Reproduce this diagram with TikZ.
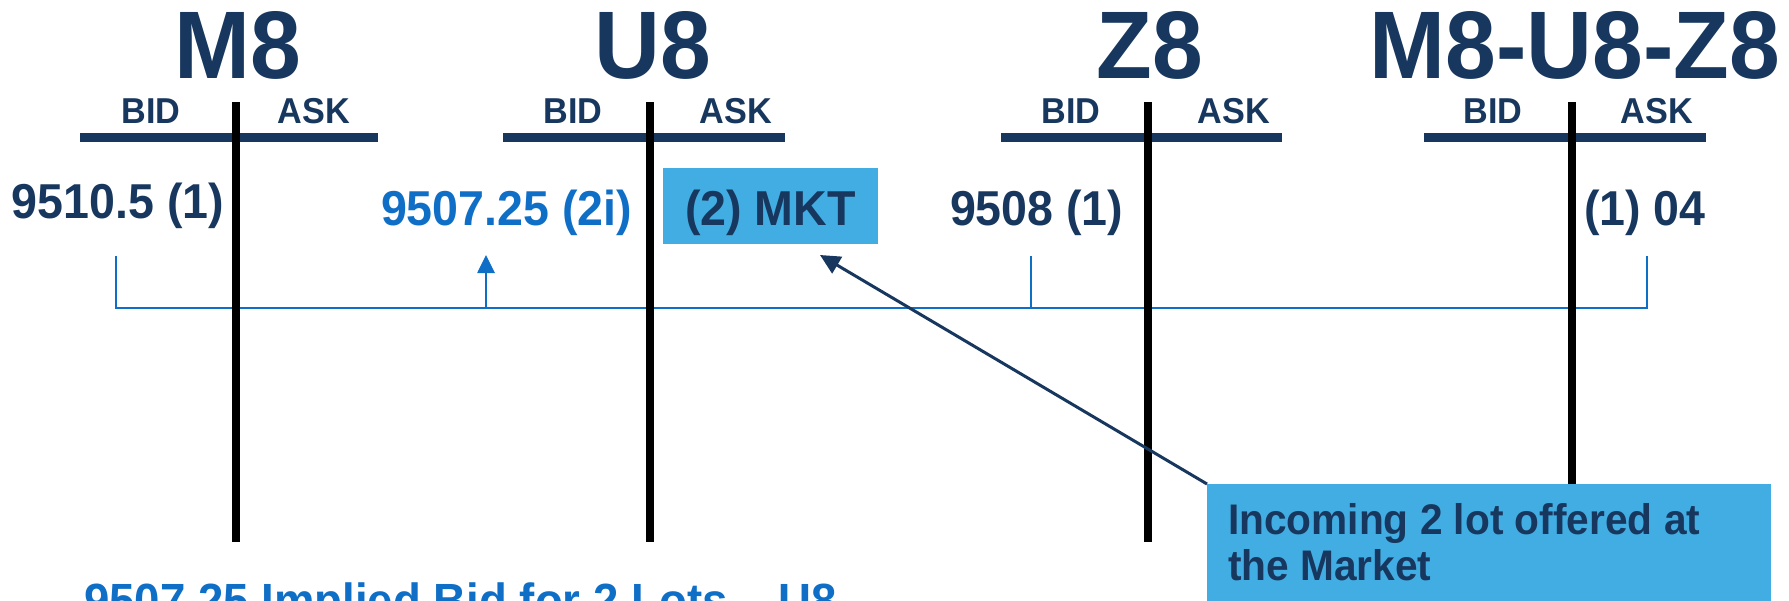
\documentclass[tikz,border=0pt]{standalone}
\usepackage{fontspec}
\setmainfont{Liberation Sans}[FakeStretch=0.95]
\usetikzlibrary{arrows.meta}
\definecolor{navy}{HTML}{17375E}
\definecolor{implied}{HTML}{0F6FC6}
\definecolor{sky}{HTML}{41ADE2}
\newcommand\bsz[1]{\fontsize{#1pt}{#1pt}\selectfont\bfseries}

\begin{document}
\begin{tikzpicture}[x=1pt,y=-1pt,
  every node/.style={inner sep=0pt, outer sep=0pt},
  title/.style={anchor=base, text=navy, font=\bsz{96}},
  side/.style={anchor=base, text=navy, font=\bsz{36}},
  price/.style={anchor=base west, text=navy, font=\bsz{49}},
  bar/.style={draw=navy, line width=9pt},
  divider/.style={draw=black, line width=8pt},
  link/.style={draw=implied, line width=2.7pt},
  skybox/.style={fill=sky, anchor=north west},
  callouttext/.style={anchor=base west, text=navy, font=\bsz{42.8}},
]
\useasboundingbox (0,0) rectangle (1789,600);

% contract titles
\node[title] (tM) at (238,78) {M8};
\node[title] (tU) at (653,78) {U8};
\node[title] (tZ) at (1150,78) {Z8};
\node[title] (tS) at (1575,78) {M8-U8-Z8};

% bid / ask headers
\node[side] (bidM) at (151,123) {BID};
\node[side] (askM) at (314,123) {ASK};
\node[side] (bidU) at (573,123) {BID};
\node[side] (askU) at (736,123) {ASK};
\node[side] (bidZ) at (1071,123) {BID};
\node[side] (askZ) at (1234,123) {ASK};
\node[side] (bidS) at (1493,123) {BID};
\node[side] (askS) at (1657,123) {ASK};

% header bars
\draw[bar] (80,137.5) -- (378,137.5);
\draw[bar] (503,137.5) -- (785,137.5);
\draw[bar] (1001,137.5) -- (1282,137.5);
\draw[bar] (1424,137.5) -- (1706,137.5);

% order book entries
\node[price] (pM) at (12,218) {9510.5 (1)};
\node[price, text=implied] (pU) at (381,225) {9507.25 (2i)};
\node[skybox, minimum width=215pt, minimum height=76pt] (mkt) at (663,168) {};
\node[anchor=base, text=navy, font=\bsz{49}] (mkttext) at (770.5,225) {(2) MKT};
\node[price] (pZ) at (950,225) {9508 (1)};
\node[price] (pS) at (1584,225) {(1) 04};

% implied-price link
\coordinate (lM) at (116,256);
\coordinate (lMb) at (116,308);
\coordinate (lU) at (486,255);
\coordinate (lUb) at (486,308);
\coordinate (lZ) at (1031,256);
\coordinate (lZb) at (1031,308);
\coordinate (lS) at (1647,256);
\coordinate (lSb) at (1647,308);
\draw[link] (lM) -- (lMb) -- (lSb) -- (lS);
\draw[link] (lZ) -- (lZb);
\draw[link, -{Triangle[length=18pt, width=17pt]}] (lUb) -- (lU);

% bid / ask dividers
\draw[divider] (236,102) -- (236,542);
\draw[divider] (650,102) -- (650,542);
\draw[divider] (1148,102) -- (1148,542);
\draw[divider] (1572,102) -- (1572,542);

% incoming order callout
\node[skybox, minimum width=564pt, minimum height=140pt] (callout) at (1207,484) {};
\node[callouttext] (cl1) at (1228,534) {Incoming 2 lot offered at};
\node[callouttext] (cl2) at (1228,580) {the Market};
\coordinate (mktin) at (820,255);
\draw[navy, line width=3pt, -{Triangle[length=20pt, width=19pt]}] (callout.north west) -- (mktin);

% summary line
\node[anchor=base west, text=implied, font=\bsz{48}] (summary) at (84,617) {9507.25 Implied Bid for 2 Lots – U8};
\end{tikzpicture}
\end{document}
